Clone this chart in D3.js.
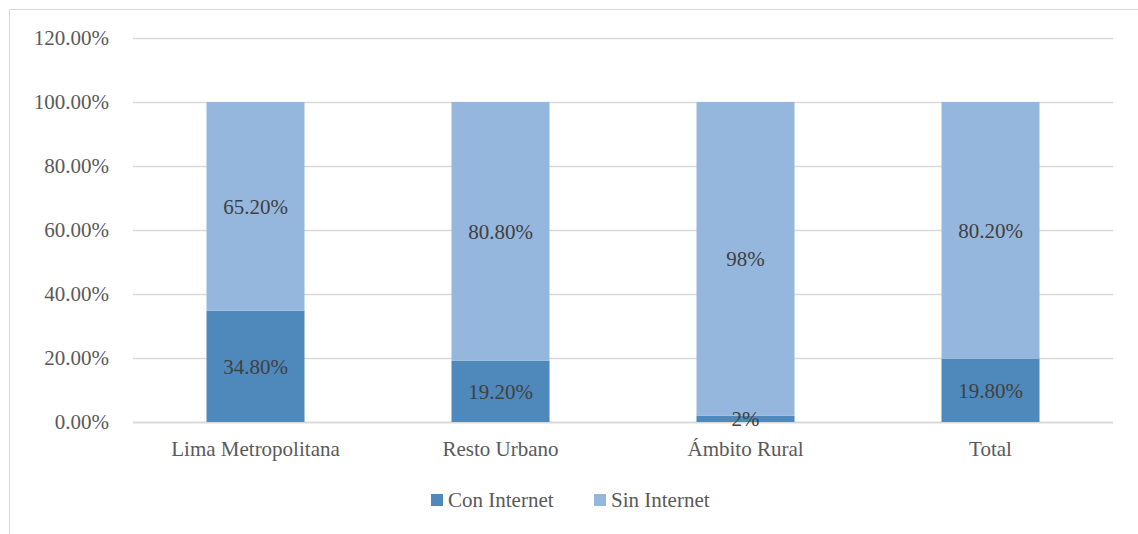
<!DOCTYPE html>
<html>
<head>
<meta charset="utf-8">
<script src="https://cdn.jsdelivr.net/npm/d3@7"></script>
<style>
  body { margin: 0; background: #fff; }
  svg text { font-family: "Liberation Serif", "Times New Roman", Times, "DejaVu Serif", serif !important; }
</style>
</head>
<body>
<div id="chart"></div>
<script>
// data
var categories = ["Lima Metropolitana", "Resto Urbano", "Ámbito Rural", "Total"];
var conInternet = [34.8, 19.2, 2, 19.8];
var sinInternet = [65.2, 80.8, 98, 80.2];
var conLabels = ["34.80%", "19.20%", "2%", "19.80%"];
var sinLabels = ["65.20%", "80.80%", "98%", "80.20%"];
var yTicks = [0, 20, 40, 60, 80, 100, 120];
var seriesNames = ["Con Internet", "Sin Internet"];
var colors = ["#4f88bb", "#95b7de"];
var serif = "'Liberation Serif', 'Times New Roman', Times, 'DejaVu Serif', serif";

var W = 1138, H = 534;
var margin = {top: 38, right: 25, bottom: 112, left: 133};
var width = W - margin.left - margin.right,
    height = H - margin.top - margin.bottom;

var svg = d3.select("#chart").append("svg")
    .attr("width", W)
    .attr("height", H)
    .attr("font-family", serif);

// outer frame (only top and left edges visible)
svg.append("path")
    .attr("d", "M9.5," + H + "V9.5H" + W)
    .attr("fill", "none")
    .attr("stroke", "#d9d9d9")
    .attr("stroke-width", 1);

var g = svg.append("g")
    .attr("transform", "translate(" + margin.left + "," + margin.top + ")");

var x = d3.scaleBand()
    .domain(categories)
    .range([0, width])
    .paddingInner(0.6)
    .paddingOuter(0.3);

var y = d3.scaleLinear()
    .domain([0, 120])
    .range([height, 0]);

// gridlines
g.selectAll(".grid").data(yTicks).enter()
    .append("line")
    .attr("class", "grid")
    .attr("x1", 0)
    .attr("x2", width)
    .attr("y1", function(d) { return y(d) + 0.5; })
    .attr("y2", function(d) { return y(d) + 0.5; })
    .attr("stroke", "#d9d9d9")
    .attr("stroke-width", function(d) { return d === 0 ? 2 : 1.5; });

// y axis
var yAxis = d3.axisLeft(y)
    .tickValues(yTicks)
    .tickSize(0)
    .tickPadding(24)
    .tickFormat(function(d) { return d.toFixed(2) + "%"; });

g.append("g")
    .attr("class", "y-axis")
    .call(yAxis)
    .attr("font-family", serif)
    .call(function(a) { a.select(".domain").remove(); })
    .selectAll("text")
    .attr("fill", "#595959")
    .style("font-size", "21px");

// x axis
var xAxis = d3.axisBottom(x).tickSize(0).tickPadding(19);
g.append("g")
    .attr("class", "x-axis")
    .attr("transform", "translate(0," + height + ")")
    .call(xAxis)
    .attr("font-family", serif)
    .call(function(a) { a.select(".domain").remove(); })
    .selectAll("text")
    .attr("fill", "#595959")
    .style("font-size", "21px");

// stacked bars
var rows = categories.map(function(c, i) {
    return {category: c, con: conInternet[i], sin: sinInternet[i],
            conLabel: conLabels[i], sinLabel: sinLabels[i]};
});
var stack = d3.stack().keys(["con", "sin"]);
var series = stack(rows);
var labelKey = {con: "conLabel", sin: "sinLabel"};

var layers = g.selectAll(".layer").data(series).enter()
    .append("g")
    .attr("class", "layer")
    .attr("fill", function(d, i) { return colors[i]; });

layers.selectAll("rect").data(function(d) { return d; }).enter()
    .append("rect")
    .attr("x", function(d) { return x(d.data.category); })
    .attr("y", function(d) { return y(d[1]); })
    .attr("width", x.bandwidth())
    .attr("height", function(d) { return y(d[0]) - y(d[1]); });

// data labels
series.forEach(function(s) {
    g.selectAll(".lbl-" + s.key).data(s).enter()
        .append("text")
        .attr("x", function(d) { return x(d.data.category) + x.bandwidth() / 2; })
        .attr("y", function(d) { return y((d[0] + d[1]) / 2); })
        .attr("dy", "0.35em")
        .attr("text-anchor", "middle")
        .attr("fill", "#404040")
        .style("font-size", "21px")
        .text(function(d) { return d.data[labelKey[s.key]]; });
});

// legend
var legend = svg.append("g")
    .attr("transform", "translate(431,500)");
var legendX = [0, 163];
seriesNames.forEach(function(name, i) {
    var item = legend.append("g").attr("transform", "translate(" + legendX[i] + ",0)");
    item.append("rect")
        .attr("x", 0)
        .attr("y", -6)
        .attr("width", 12)
        .attr("height", 12)
        .attr("fill", colors[i]);
    item.append("text")
        .attr("x", 17)
        .attr("y", 0)
        .attr("dy", "0.35em")
        .attr("fill", "#595959")
        .style("font-size", "21px")
        .text(name);
});
</script>
</body>
</html>
